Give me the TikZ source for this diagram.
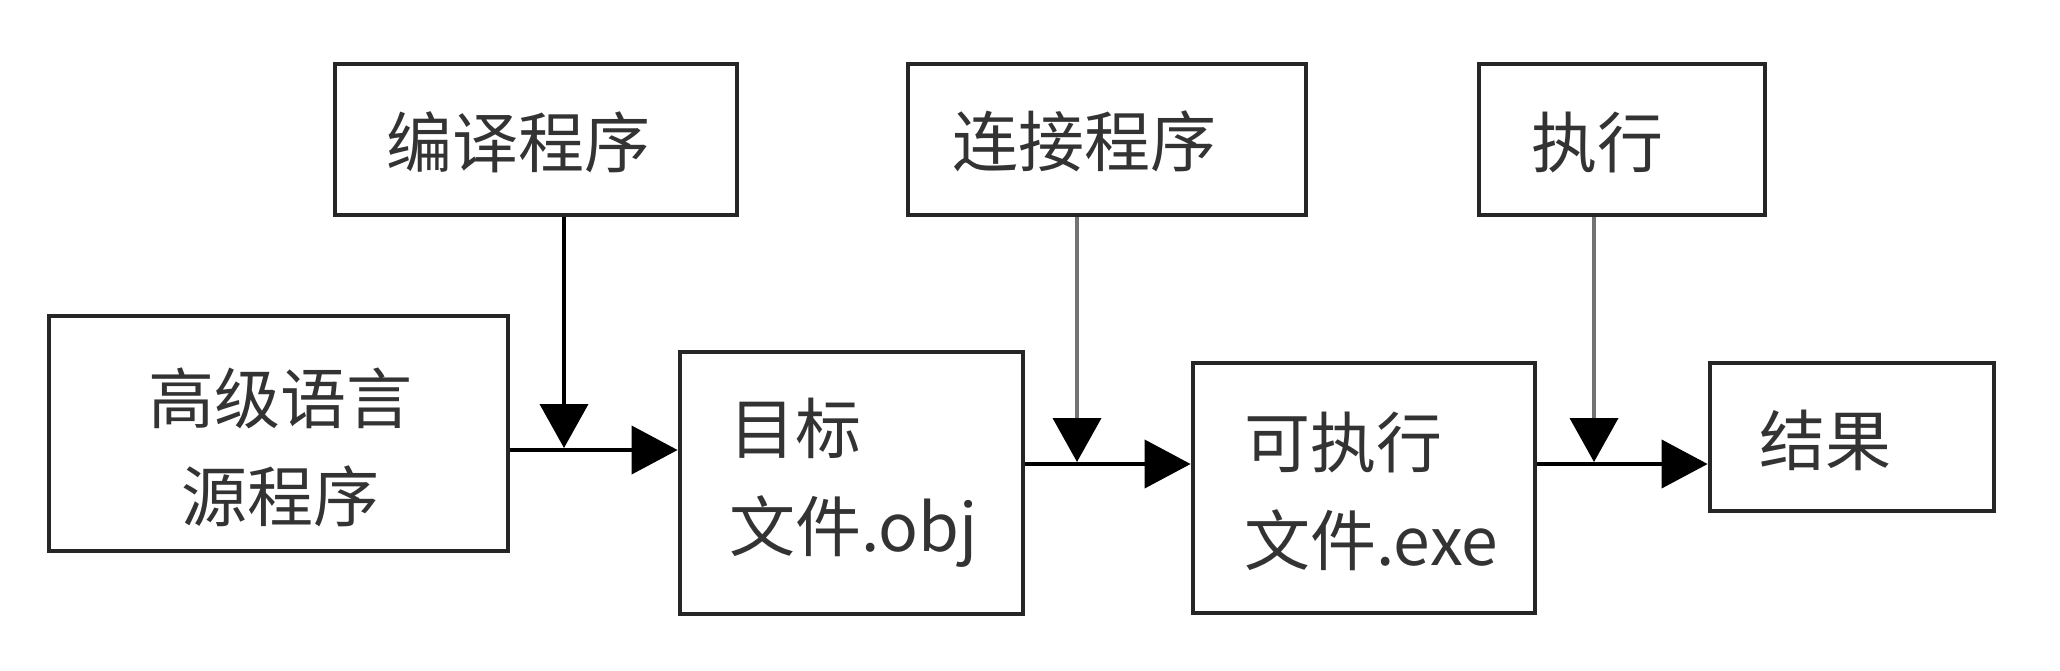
\documentclass[tikz,border=0pt]{standalone}
\usepackage{fontspec}
\newfontfamily\cjk{Noto Sans CJK SC}
\usetikzlibrary{arrows.meta}
\begin{document}
\begin{tikzpicture}[x=0.5pt,y=-0.5pt,
  box/.style={draw=black!85, line width=2.4pt, inner sep=0pt},
  lbl/.style={font=\cjk\fontsize{33}{49}\selectfont, text=black!80, inner sep=0pt},
  flow/.style={line width=2pt, draw=black, -{Triangle[length=23pt,width=24pt,color=black]}},
  feed/.style={line width=2pt, -{Triangle[length=22pt,width=24pt,color=black]}, shorten >=1pt}
]
\useasboundingbox[fill=white] (0,0) rectangle (2060,670);
% boxes
\node[box, minimum width=201pt, minimum height=75.5pt] (comp) at (536,139.5) {};
\node[box, minimum width=199pt, minimum height=75.5pt] (link) at (1107,139.5) {};
\node[box, minimum width=143pt, minimum height=75.5pt] (exec) at (1622,139.5) {};
\node[box, minimum width=229.5pt, minimum height=117.5pt] (src) at (278.5,433.5) {};
\node[box, minimum width=171.5pt, minimum height=131pt] (obj) at (851.5,483) {};
\node[box, minimum width=171pt, minimum height=125pt] (exe) at (1364,488) {};
\node[box, minimum width=142pt, minimum height=74pt] (res) at (1852,437) {};
% labels
\node[lbl] (tcomp) at (518,142) {编译程序};
\node[lbl] (tlink) at (1084,141) {连接程序};
\node[lbl] (texec) at (1597,142) {执行};
\node[lbl, align=center] (tsrc) at (280,447) {高级语言\\源程序};
\node[lbl, align=left, anchor=west] (tobj) at (729,483) {目标\\文件.obj};
\node[lbl, align=left, anchor=west] (texe) at (1244,491) {可执行\\文件.exe};
\node[lbl, anchor=west] (tres) at (1759,440) {结果};
% junctions
\coordinate (j1) at (564,450);
\coordinate (j2) at (1077,464);
\coordinate (j3) at (1594,464);
% horizontal flow
\draw[flow] (src.east |- j1) -- (obj.west |- j1);
\draw[flow] (obj.east |- j2) -- (exe.west |- j2);
\draw[flow] (exe.east |- j3) -- (res.west |- j3);
% feeds
\draw[feed, draw=black] (comp.south -| j1) -- (j1);
\draw[feed, draw=black!55] (link.south -| j2) -- (j2);
\draw[feed, draw=black!55] (exec.south -| j3) -- (j3);
\end{tikzpicture}
\end{document}
